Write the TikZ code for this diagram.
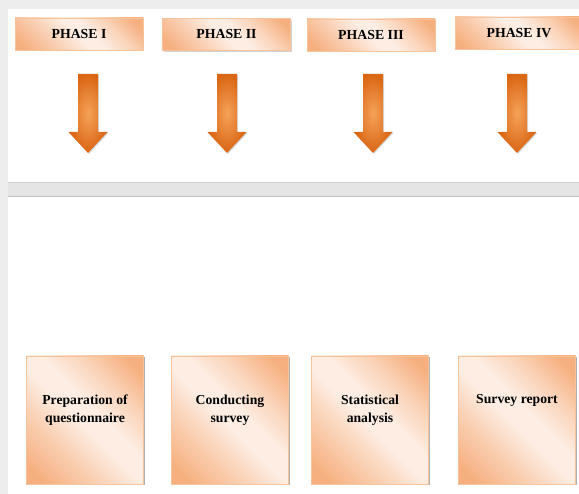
\documentclass[tikz,border=0pt]{standalone}
\usepackage{fontspec}
\setmainfont{Liberation Serif}
\usetikzlibrary{positioning,shadows}

\definecolor{boxorange}{HTML}{F6B080}
\definecolor{boxlight}{HTML}{FDEDE2}
\definecolor{boxedge}{HTML}{F6C39B}
\definecolor{arrdark}{HTML}{DA6614}
\definecolor{arrlight}{HTML}{F5A259}
\definecolor{bandgray}{HTML}{E5E5E5}

\pgfdeclarehorizontalshading{tileshade}{100bp}{
  color(0bp)=(boxorange); color(20bp)=(boxorange);
  color(36bp)=(boxorange!45!boxlight); color(48bp)=(boxlight);
  color(56bp)=(boxlight); color(68bp)=(boxorange!45!boxlight);
  color(80bp)=(boxorange); color(100bp)=(boxorange)}

\tikzset{
  phase/.style={draw=boxedge, line width=0.8pt, minimum width=128pt, minimum height=32pt, inner sep=0pt,
    shading=tileshade, shading angle=45,
    drop shadow={shadow xshift=1.2pt, shadow yshift=-1.2pt, opacity=0.35},
    font=\bfseries\fontsize{13.8}{16}\selectfont},
  task/.style={phase, minimum width=117pt, minimum height=128pt,
    drop shadow={shadow xshift=1.5pt, shadow yshift=-1.5pt, opacity=0.4}},
  tasktext/.style={align=center, inner sep=0pt, font=\bfseries\fontsize{13.7}{18}\selectfont},
  phasearrow/.style={inner color=arrlight, outer color=arrdark,
    drop shadow={shadow xshift=1pt, shadow yshift=-1pt, opacity=0.3}}
}

\begin{document}
\begin{tikzpicture}[x=1pt, y=-1pt]
  \clip (0,0) rectangle (579,494);
  % page background and band
  \fill[black!7] (0,0) rectangle (579,494);
  \fill[white] (8,9) rectangle (579,494);
  \fill[bandgray] (8,182) rectangle (579,197);
  \draw[black!18] (8,182.5) -- (579,182.5);
  \draw[black!25] (8,196.5) -- (579,196.5);

  \node[phase] (p1) at (79,34) {PHASE I};
  \node[phase] (p2) at (226.5,34.5) {PHASE II};
  \node[phase] (p3) at (371,35) {PHASE III};
  \node[phase] (p4) at (519,33) {PHASE IV};

  \foreach \x in {88,227,373,517}
    \path[phasearrow] (\x-10,74) -- (\x+10,74) -- (\x+10,132) -- (\x+19.5,132)
      -- (\x,153) -- (\x-19.5,132) -- (\x-10,132) -- cycle;

  \node[task] (t1) at (85,420) {};
  \node[task] (t2) at (230,420) {};
  \node[task] (t3) at (370,420) {};
  \node[task] (t4) at (517,420) {};

  \node[tasktext, below=39pt of t1.north] (l1) {Preparation of\\questionnaire};
  \node[tasktext, below=39pt of t2.north] (l2) {Conducting\\survey};
  \node[tasktext, below=39pt of t3.north] (l3) {Statistical\\analysis};
  \node[tasktext, below=39pt of t4.north] (l4) {Survey report};
\end{tikzpicture}
\end{document}
